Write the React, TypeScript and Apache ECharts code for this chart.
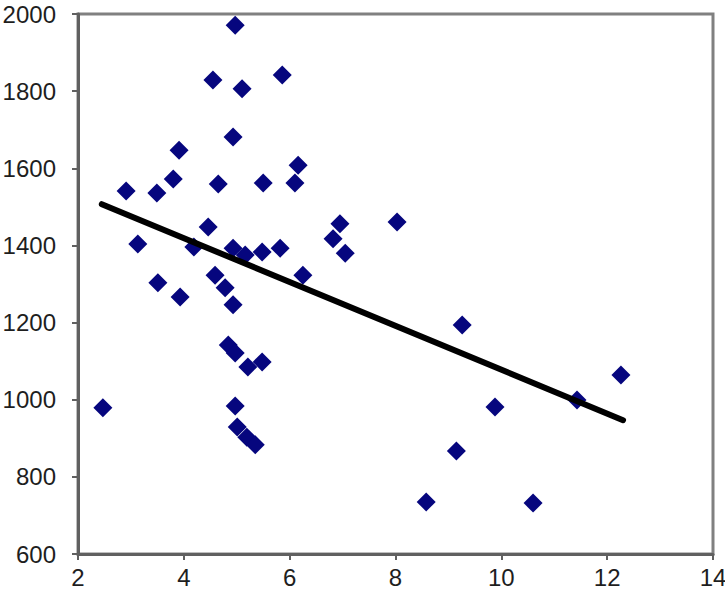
import React, { useEffect, useRef } from "react";
import * as echarts from "echarts";

const xValues = [
  4.97, 4.55, 5.10, 5.86, 4.93, 3.91, 6.16, 2.91, 3.49, 3.80, 4.65, 5.50, 6.10,
  3.13, 4.46, 4.19, 4.93, 5.16, 5.48, 5.82, 6.95, 6.82, 7.05, 6.25, 3.51, 3.93,
  4.59, 4.78, 4.93, 4.84, 4.97, 5.21, 5.48, 4.97, 5.01, 5.19, 5.35, 2.47, 8.03,
  9.26, 9.88, 9.15, 8.58, 10.60, 11.43, 12.26,
];
const yValues = [
  1971, 1829, 1806, 1842, 1681, 1647, 1608, 1541, 1536, 1572, 1559, 1562, 1562,
  1404, 1448, 1396, 1393, 1375, 1383, 1393, 1456, 1417, 1380, 1323, 1303, 1266,
  1323, 1290, 1246, 1142, 1121, 1085, 1098, 984, 929, 903, 883, 979, 1461,
  1194, 981, 867, 735, 732, 999, 1064,
];
const trendX = [2.45, 12.3];
const trendY = [1507, 947];

const xTicks = { min: 2, max: 14, interval: 2 };
const yTicks = { min: 600, max: 2000, interval: 200 };

export default function App() {
  const ref = useRef<HTMLDivElement>(null);
  useEffect(() => {
    if (!ref.current) return;
    const chart = echarts.init(ref.current, undefined, { renderer: "svg" });
    const font = {
      fontFamily: "'Liberation Sans', Arial, sans-serif",
      fontSize: 24,
      color: "#1e1e1e",
      formatter: (v: number) => String(v),
    };
    chart.setOption({
      animation: false,
      backgroundColor: "#fff",
      grid: {
        left: 78,
        top: 14,
        right: 12,
        bottom: 37,
        show: true,
        borderColor: "#808080",
        borderWidth: 3,
        outerBoundsMode: "none",
        containLabel: false,
      },
      xAxis: {
        type: "value",
        min: xTicks.min,
        max: xTicks.max,
        interval: xTicks.interval,
        axisLine: { show: true, lineStyle: { color: "#606060", width: 3 } },
        axisTick: { show: true, length: 6, lineStyle: { color: "#606060", width: 2 } },
        axisLabel: { ...font, margin: 11 },
        splitLine: { show: false },
      },
      yAxis: {
        type: "value",
        min: yTicks.min,
        max: yTicks.max,
        interval: yTicks.interval,
        axisLine: { show: true, lineStyle: { color: "#606060", width: 3 } },
        axisTick: { show: true, length: 6, lineStyle: { color: "#606060", width: 2 } },
        axisLabel: { ...font, margin: 22 },
        splitLine: { show: false },
      },
      series: [
        {
          type: "scatter",
          symbol: "diamond",
          symbolSize: [19, 19],
          itemStyle: { color: "#06067e", opacity: 1 },
          data: xValues.map((x, i) => [x, yValues[i]]),
          z: 2,
        },
        {
          type: "line",
          symbol: "none",
          lineStyle: { color: "#000", width: 6, cap: "round" },
          data: trendX.map((x, i) => [x, trendY[i]]),
          z: 3,
        },
      ],
    });
    return () => chart.dispose();
  }, []);
  return (
    <div
      ref={ref}
      style={{ position: "fixed", left: 0, top: 0, width: 725, height: 591 }}
    />
  );
}
